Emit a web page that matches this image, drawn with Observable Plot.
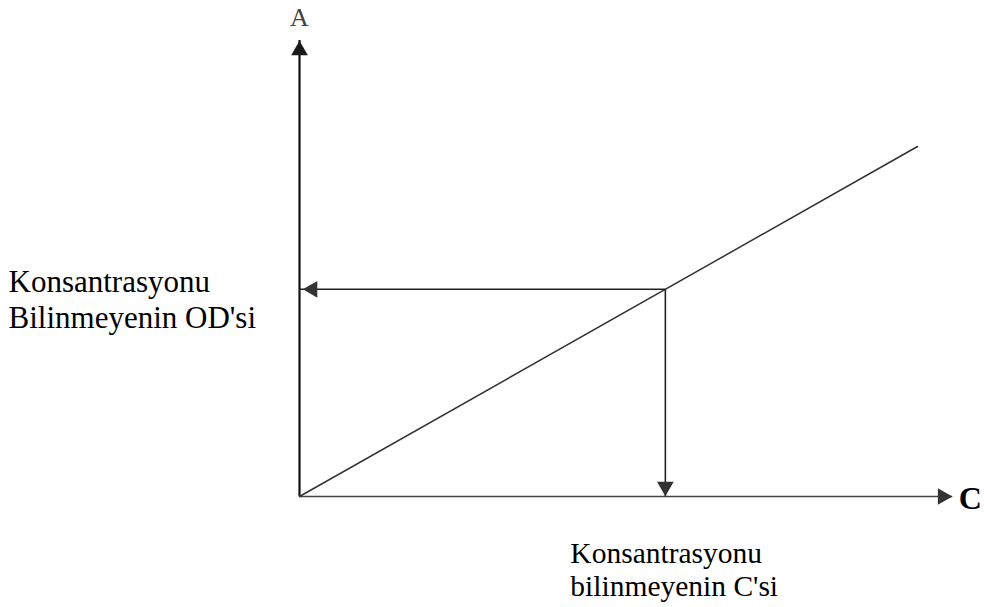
<!DOCTYPE html>
<html>
<head>
<meta charset="utf-8">
<script src="https://cdn.jsdelivr.net/npm/d3@7"></script>
<script src="https://cdn.jsdelivr.net/npm/@observablehq/plot@0.6"></script>
<style>
  html, body { margin: 0; padding: 0; background: #fff; }
  #chart svg { display: block; }
</style>
</head>
<body>
<div id="chart"></div>
<script>
// Calibration line (concentration C vs absorbance A)
const calibC = [0, 10];
const calibA = [0, 1.0];
// Unknown sample
const unknownC = [5.92];
const unknownA = [0.592];
// Axis extents (arrow tips)
const axisMaxC = [10.57];
const axisMaxA = [1.303];
// Texts
const axisLabelA = ["A"];
const axisLabelC = ["C"];
const labelOD = ["Konsantrasyonu\nBilinmeyenin OD'si"];
const labelC = ["Konsantrasyonu\nbilinmeyenin C'si"];

const serif = "'Liberation Serif', 'Times New Roman', serif";
const ink = "#1a1a1a";

const calib = calibC.map((c, i) => ({c, a: calibA[i]}));

const chart = Plot.plot({
  width: 984,
  height: 607,
  margin: 0,
  x: {type: "linear", domain: [0, 10], range: [299, 917], axis: null},
  y: {type: "linear", domain: [0, 1], range: [496, 146], axis: null},
  style: {background: "#fff"},
  marks: [
    // y axis
    Plot.ruleX([0], {y1: 0, y2: axisMaxA[0], stroke: "#111", strokeWidth: 2.2}),
    // x axis
    Plot.ruleY([0], {x1: 0, x2: axisMaxC[0], stroke: "#444", strokeWidth: 1.6}),
    // calibration line
    Plot.line(calib, {x: "c", y: "a", stroke: "#333", strokeWidth: 1.5}),
    // horizontal reading arrow (to A axis)
    Plot.link(unknownA, {x1: unknownC[0], x2: 0, y1: d => d, y2: d => d, stroke: "#222", strokeWidth: 1.6}),
    // vertical reading arrow (to C axis)
    Plot.link(unknownC, {x1: d => d, x2: d => d, y1: unknownA[0], y2: 0, stroke: "#222", strokeWidth: 1.6}),
    // arrowheads
    Plot.dot(axisMaxA, {x: 0, y: d => d, symbol: "triangle", r: 6.2, fill: ink, stroke: null, dy: 10, rotate: 0}),
    Plot.dot(axisMaxC, {x: d => d, y: 0, symbol: "triangle", r: 6.2, fill: "#333", stroke: null, dx: -10, rotate: 90}),
    Plot.dot(unknownA, {x: 0, y: d => d, symbol: "triangle", r: 6.2, fill: "#333", stroke: null, dx: 13, rotate: -90}),
    Plot.dot(unknownC, {x: unknownC[0], y: 0, symbol: "triangle", r: 6.2, fill: "#333", stroke: null, dy: -10, rotate: 180}),
    // axis labels
    Plot.text(axisLabelA, {x: 0, y: axisMaxA[0], text: d => d, dy: -23, fontFamily: serif, fontSize: 26, fill: "#444", textAnchor: "middle", lineAnchor: "middle"}),
    Plot.text(axisLabelC, {x: axisMaxC[0], y: 0, text: d => d, dx: 6, dy: 2, fontFamily: serif, fontSize: 32, fontWeight: "bold", fill: "#000", textAnchor: "start", lineAnchor: "middle"}),
    // annotation labels
    Plot.text(labelOD, {x: 0, y: unknownA[0], text: d => d, dx: -291, dy: 9, fontFamily: serif, fontSize: 31, lineHeight: 1.16, fill: "#000", textAnchor: "start", lineAnchor: "middle"}),
    Plot.text(labelC, {x: unknownC[0], y: 0, text: d => d, dx: -95, dy: 43, fontFamily: serif, fontSize: 29.5, lineHeight: 1.12, fill: "#000", textAnchor: "start", lineAnchor: "top"})
  ]
});
document.getElementById("chart").appendChild(chart);
</script>
</body>
</html>
